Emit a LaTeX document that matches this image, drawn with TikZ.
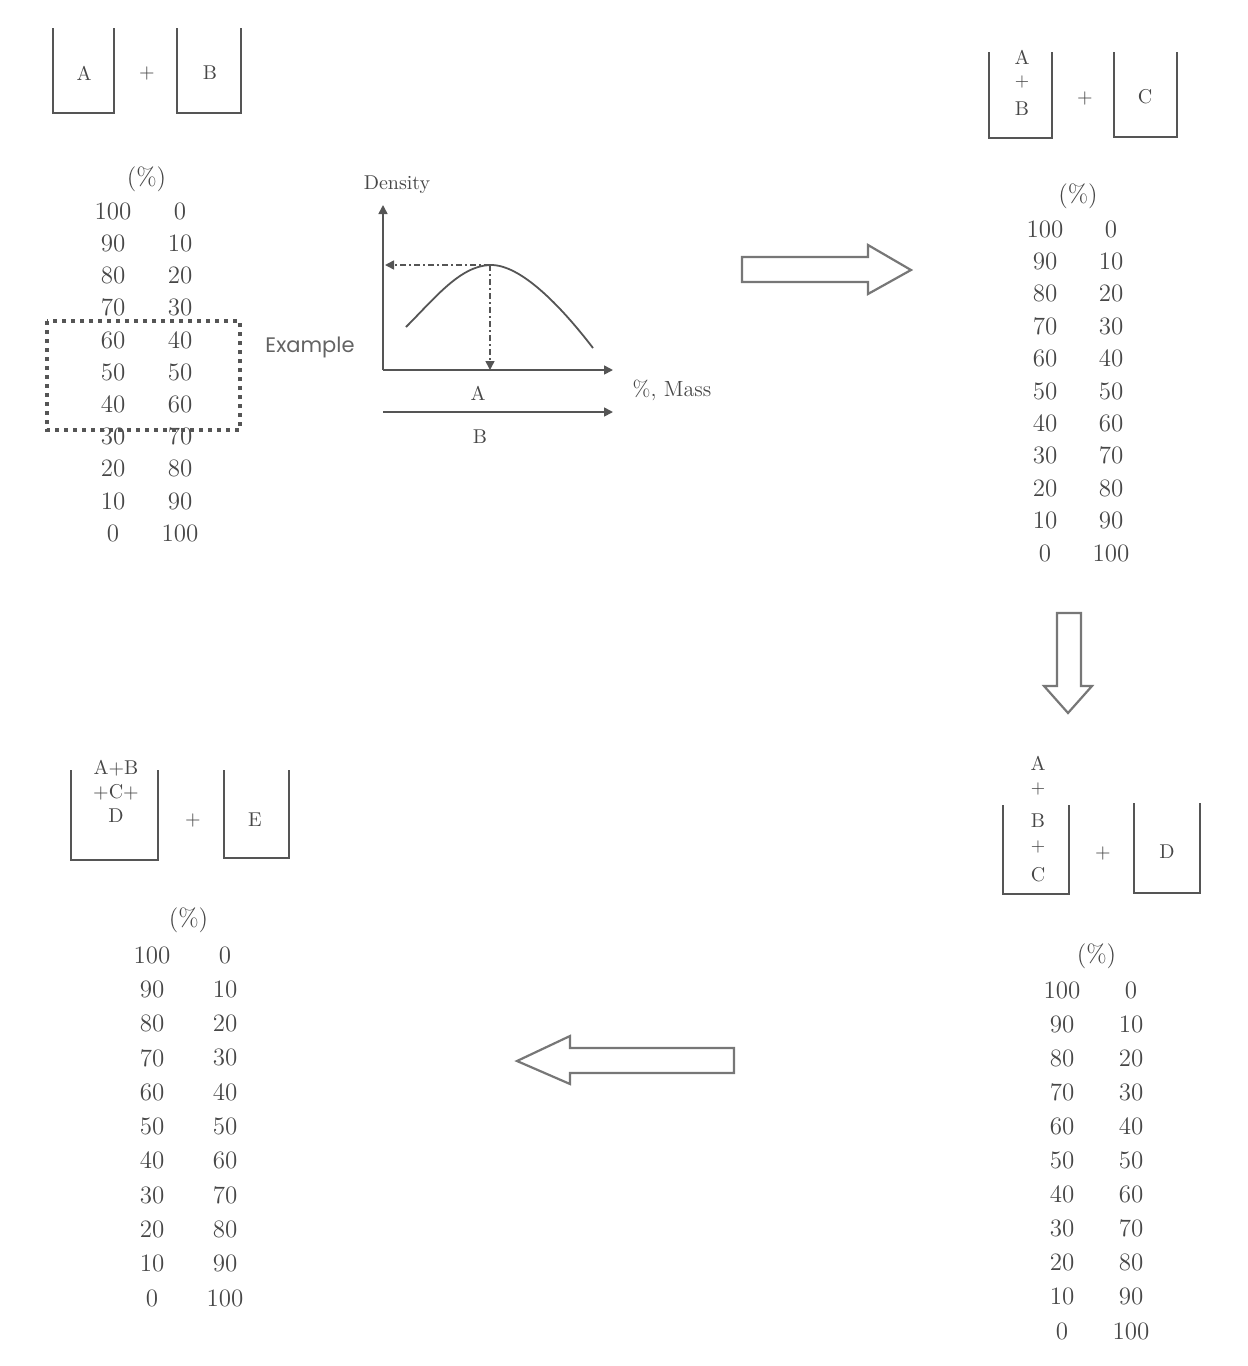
\documentclass[tikz,border=0pt]{standalone}
\usepackage{fontspec}
\newfontfamily\exfont{Poppins}
\usetikzlibrary{arrows.meta}
\definecolor{ink}{HTML}{474747}
\definecolor{edge}{HTML}{555555}
\newcommand\pcttable[5]{%
  \node[num] (#1h) at ({(#2+#3)/2},#4) {(\%)};
  \foreach \a [count=\i] in {100,90,...,0} {%
    \pgfmathtruncatemacro\b{100-\a}%
    \node[num] (#1l\i) at (#2,{#4+\i*#5}) {\a};
    \node[num] (#1r\i) at (#3,{#4+\i*#5}) {\b};
  }}
\begin{document}
\begin{tikzpicture}[x=0.5pt,y=-0.5pt,
  every node/.style={text=ink, inner sep=0pt},
  num/.style={font=\fontsize{12.5}{13}\selectfont},
  lab/.style={font=\fontsize{10}{11}\selectfont},
  small/.style={font=\fontsize{9}{10}\selectfont},
  beaker/.style={draw=edge, line width=0.9pt},
  blockarrow/.style={draw=edge!80, line width=1.1pt, fill=white, line join=miter},
  axis/.style={draw=edge, line width=0.8pt, -{Triangle[length=4.5pt,width=4.5pt]}},
  dashdot/.style={draw=edge, line width=0.8pt, dash pattern=on 3pt off 1.5pt on 1pt off 1.5pt, -{Triangle[length=4.5pt,width=4.5pt]}},
  dotbox/.style={draw=edge, line width=2pt, dash pattern=on 2pt off 2.5pt}]
\useasboundingbox (0,0) rectangle (1248,1366);

% ---- top-left beakers
\draw[beaker] (53,28) -- (53,113) -- (114,113) -- (114,28);
\node[lab] (tA) at (84,73) {A};
\node[lab] (tplus1) at (147,73) {+};
\draw[beaker] (177,28) -- (177,113) -- (241,113) -- (241,28);
\node[lab] (tB) at (210,73) {B};

% ---- top-left table
\pcttable{ta}{113}{180}{179}{32.2}
\draw[dotbox] (47,321) rectangle (240,430);
\node[font=\exfont\fontsize{10.5}{11}\selectfont, text=ink!85, anchor=base] (ex) at (310,352) {Example};

% ---- graph
\coordinate (O) at (383,370);
\coordinate (Ytop) at (383,205);
\coordinate (Xend) at (613,370);
\coordinate (B0) at (383,412);
\coordinate (B1) at (613,412);
\coordinate (peak) at (490,265);
\coordinate (yhit) at (385,265);
\coordinate (xhit) at (490,370);
\draw[axis] (O) -- (Ytop);
\draw[axis] (O) -- (Xend);
\draw[axis] (B0) -- (B1);
\draw[edge, line width=0.9pt] (406,327) .. controls (435,298) and (460,266) .. (490,265)
  .. controls (520,264) and (560,305) .. (593,348);
\draw[dashdot] (peak) -- (yhit);
\draw[dashdot] (peak) -- (xhit);
\node[font=\fontsize{10}{11}\selectfont] (dens) at (397,185) {Density};
\node[lab] (gA) at (478,393) {A};
\node[lab] (gB) at (480,437) {B};
\node[font=\fontsize{11}{12}\selectfont] (mass) at (672,390) {\%, Mass};

% ---- right block arrow
\draw[blockarrow] (742,257) -- (868,257) -- (868,245) -- (911,270) -- (868,294) -- (868,282) -- (742,282) -- cycle;

% ---- top-right beakers
\draw[beaker] (989,52) -- (989,138) -- (1052,138) -- (1052,52);
\node[lab] (rA) at (1022,57) {A};
\node[small] (rp1) at (1022,82) {+};
\node[lab] (rB) at (1022,109) {B};
\node[lab] (rplus) at (1085,98) {+};
\draw[beaker] (1114,52) -- (1114,137) -- (1177,137) -- (1177,52);
\node[lab] (rC) at (1145,97) {C};

% ---- top-right table
\pcttable{tb}{1045}{1111}{196.6}{32.4}

% ---- down block arrow
\draw[blockarrow] (1057,613) -- (1081,613) -- (1081,686) -- (1092,686) -- (1068,713) -- (1044,686) -- (1057,686) -- cycle;

% ---- bottom-right beakers
\node[lab] (sA) at (1038,763) {A};
\node[small] (sp1) at (1038,789) {+};
\draw[beaker] (1003,805) -- (1003,894) -- (1069,894) -- (1069,805);
\node[lab] (sB) at (1038,821) {B};
\node[small] (sp2) at (1038,847) {+};
\node[lab] (sC) at (1038,875) {C};
\node[lab] (splus) at (1103,853) {+};
\draw[beaker] (1134,803) -- (1134,893) -- (1200,893) -- (1200,803);
\node[lab] (sD) at (1167,852) {D};

% ---- bottom-right table
\pcttable{tc}{1062}{1131}{955.9}{34.1}

% ---- left block arrow
\draw[blockarrow] (734,1048) -- (570,1048) -- (570,1036) -- (517,1061) -- (570,1084) -- (570,1073) -- (734,1073) -- cycle;

% ---- bottom-left beakers
\draw[beaker] (71,770) -- (71,860) -- (158,860) -- (158,770);
\node[lab] (lAB) at (116,768) {A+B};
\node[lab] (lC) at (116,792) {+C+};
\node[lab] (lD) at (116,816) {D};
\node[lab] (lplus) at (193,820) {+};
\draw[beaker] (224,770) -- (224,858) -- (289,858) -- (289,770);
\node[lab] (lE) at (255,820) {E};

% ---- bottom-left table
\pcttable{td}{152}{225}{920.7}{34.3}
\end{tikzpicture}
\end{document}
